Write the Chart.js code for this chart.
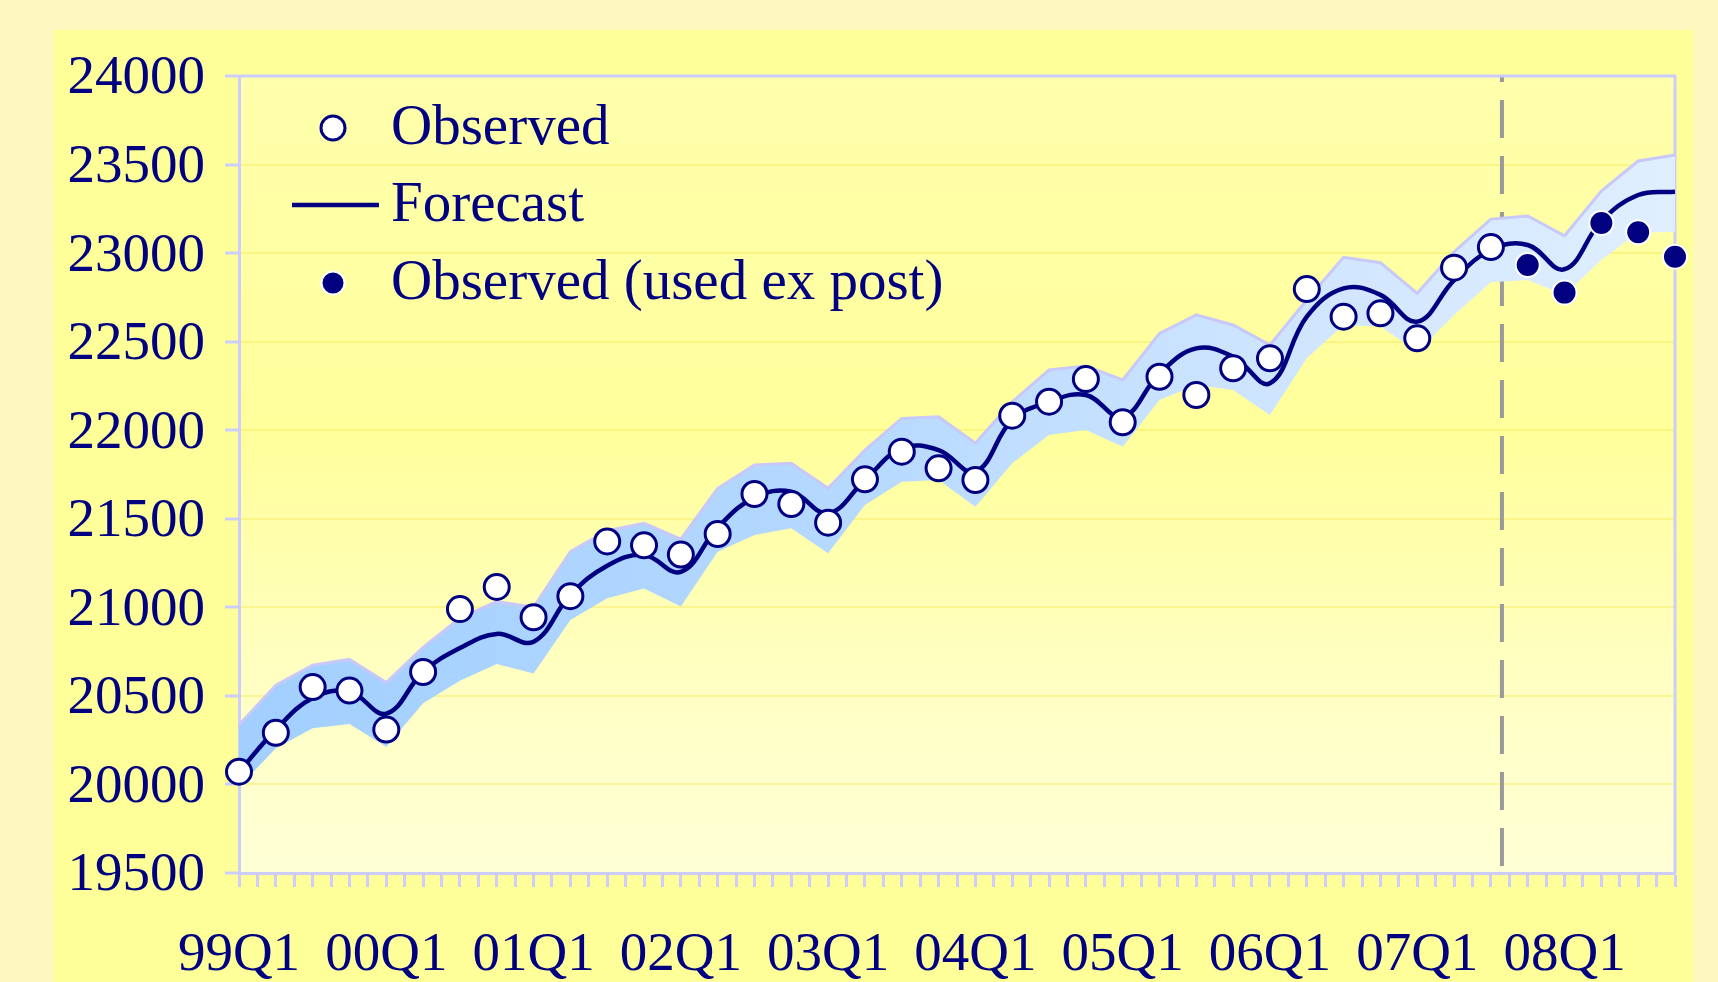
<!DOCTYPE html>
<html>
<head>
<meta charset="utf-8">
<script src="https://cdn.jsdelivr.net/npm/chart.js@4.4.0/dist/chart.umd.min.js"></script>
<style>
    html, body { margin: 0; padding: 0; width: 1718px; height: 982px; overflow: hidden; background: #FFF7C0; }
    #painel { position: absolute; left: 53px; top: 30px; width: 1640px; height: 952px; background: #FFFF99; }
    canvas { display: block; }
</style>
</head>
<body>
<div id="painel"><canvas id="grafico" width="1640" height="952"></canvas></div>
<script>
// --- Dados ---
const trimestres = [
    '99Q1', '99Q2', '99Q3', '99Q4', '00Q1', '00Q2', '00Q3', '00Q4',
    '01Q1', '01Q2', '01Q3', '01Q4', '02Q1', '02Q2', '02Q3', '02Q4',
    '03Q1', '03Q2', '03Q3', '03Q4', '04Q1', '04Q2', '04Q3', '04Q4',
    '05Q1', '05Q2', '05Q3', '05Q4', '06Q1', '06Q2', '06Q3', '06Q4',
    '07Q1', '07Q2', '07Q3', '07Q4', '08Q1', '08Q2', '08Q3', '08Q4'
];

const observado = [
    20072, 20292, 20550, 20530, 20310, 20635, 20990, 21115,
    20944, 21063, 21372, 21350, 21298, 21414, 21640, 21583,
    21478, 21723, 21879, 21785, 21719, 22082, 22161, 22289,
    22045, 22302, 22199, 22350, 22406, 22797, 22641, 22660,
    22519, 22918, 23034
];

const trimestresExPost = ['07Q4', '08Q1', '08Q2', '08Q3', '08Q4'];
const observadoExPost = [22933, 22777, 23170, 23118, 22980];

const previsao = [
    20070, 20310, 20488, 20524, 20400, 20635, 20770, 20850,
    20806, 21070, 21235, 21296, 21200, 21450, 21620, 21653,
    21531, 21719, 21898, 21888, 21766, 22058, 22161, 22199,
    22075, 22320, 22462, 22415, 22265, 22641, 22801, 22764,
    22613, 22848, 23018, 23046, 22909, 23180, 23328, 23347
];

const bandaSuperior = [
    20336, 20561, 20674, 20706, 20575, 20774, 20940, 21032,
    21000, 21314, 21433, 21474, 21385, 21672, 21804, 21813,
    21672, 21888, 22067, 22076, 21926, 22161, 22340, 22363,
    22284, 22547, 22651, 22594, 22481, 22735, 22976, 22946,
    22773, 23008, 23192, 23210, 23098, 23350, 23520, 23554
];

const bandaInferior = [
    19987, 20204, 20317, 20341, 20213, 20458, 20585, 20680,
    20627, 20928, 21051, 21107, 21004, 21314, 21408, 21446,
    21305, 21578, 21709, 21719, 21568, 21813, 21973, 22001,
    21907, 22171, 22255, 22227, 22086, 22406, 22594, 22585,
    22443, 22651, 22835, 22848, 22764, 22961, 23115, 23121
];

// início do período de previsão (linha tracejada), em unidades do eixo x
const inicioPrevisao = 34.3;
const rotulosLegenda = ['Observed', 'Forecast', 'Observed (used ex post)'];

// --- Estilo ---
const corTexto = '#000080';
const corEixo = '#CCCCFF';
const fonte = "'Liberation Serif', 'Times New Roman', serif";

const emPontos = (valores) => valores.map((v, i) => ({ x: i, y: v }));
const pontosExPost = observadoExPost.map((v, i) => ({ x: trimestres.indexOf(trimestresExPost[i]), y: v }));

const gradienteBanda = (context) => {
    const area = context.chart.chartArea;
    if (!area) return '#C0DCFF';
    const g = context.chart.ctx.createLinearGradient(area.left, 0, area.right, 0);
    g.addColorStop(0, '#A2CFFF');
    g.addColorStop(0.4, '#B4D8FF');
    g.addColorStop(0.7, '#CDE4FF');
    g.addColorStop(1, '#E0EFFF');
    return g;
};

// fundo em degradê da área do gráfico
const fundoArea = {
    id: 'fundoArea',
    beforeDraw(chart) {
        const { ctx, chartArea: a } = chart;
        const g = ctx.createLinearGradient(0, a.top, 0, a.bottom);
        g.addColorStop(0, '#FFFFAC');
        g.addColorStop(0.45, '#FFFF9C');
        g.addColorStop(0.75, '#FFFFC2');
        g.addColorStop(1, '#FFFFD6');
        ctx.save();
        ctx.fillStyle = g;
        ctx.fillRect(a.left, a.top, a.right - a.left, a.bottom - a.top);
        ctx.restore();
    }
};

// linha tracejada + bordas de cima e da direita
const linhaPrevisao = {
    id: 'linhaPrevisao',
    beforeDatasetsDraw(chart) {
        const { ctx, chartArea: a, scales } = chart;
        const x = scales.x.getPixelForValue(inicioPrevisao);
        ctx.save();
        ctx.strokeStyle = '#9A9A9A';
        ctx.lineWidth = 4;
        ctx.setLineDash([38, 18]);
        ctx.beginPath();
        ctx.moveTo(x, a.bottom - 7);
        ctx.lineTo(x, a.top);
        ctx.stroke();
        ctx.setLineDash([]);
        ctx.strokeStyle = corEixo;
        ctx.lineWidth = 3;
        ctx.beginPath();
        ctx.moveTo(a.left, a.top);
        ctx.lineTo(a.right, a.top);
        ctx.lineTo(a.right, a.bottom);
        ctx.stroke();
        ctx.restore();
    }
};

// legenda dentro da área do gráfico
const legenda = {
    id: 'legenda',
    afterDraw(chart) {
        const { ctx, chartArea: a } = chart;
        const linhas = [a.top + 52, a.top + 129, a.top + 207];
        const xMarca = a.left + 94;
        ctx.save();
        ctx.beginPath();
        ctx.arc(xMarca, linhas[0], 12, 0, Math.PI * 2);
        ctx.fillStyle = '#FFFFFF';
        ctx.fill();
        ctx.lineWidth = 3;
        ctx.strokeStyle = corTexto;
        ctx.stroke();

        ctx.beginPath();
        ctx.moveTo(a.left + 53, linhas[1]);
        ctx.lineTo(a.left + 140, linhas[1]);
        ctx.lineWidth = 4.5;
        ctx.stroke();

        ctx.beginPath();
        ctx.arc(xMarca, linhas[2], 11.5, 0, Math.PI * 2);
        ctx.fillStyle = corTexto;
        ctx.fill();
        ctx.lineWidth = 2;
        ctx.strokeStyle = '#FFFFFF';
        ctx.stroke();

        ctx.font = `57px ${fonte}`;
        ctx.fillStyle = corTexto;
        ctx.textAlign = 'left';
        ctx.textBaseline = 'middle';
        rotulosLegenda.forEach((t, i) => ctx.fillText(t, a.left + 152, linhas[i] + 1));
        ctx.restore();
    }
};

new Chart(document.getElementById('grafico'), {
    type: 'line',
    data: {
        datasets: [
            {
                label: rotulosLegenda[2],
                data: pontosExPost,
                showLine: false,
                pointRadius: 12,
                pointHoverRadius: 12,
                pointBackgroundColor: corTexto,
                pointBorderColor: '#FFFFFF',
                pointBorderWidth: 2,
                borderColor: corTexto,
                clip: false
            },
            {
                label: rotulosLegenda[0],
                data: emPontos(observado),
                showLine: false,
                pointRadius: 12.5,
                pointHoverRadius: 12.5,
                pointBackgroundColor: '#FFFFFF',
                pointBorderColor: corTexto,
                pointBorderWidth: 3,
                borderColor: corTexto,
                clip: false
            },
            {
                label: rotulosLegenda[1],
                data: emPontos(previsao),
                borderColor: corTexto,
                borderWidth: 4.5,
                pointRadius: 0,
                tension: 0.4,
                fill: false
            },
            {
                label: 'Banda superior',
                data: emPontos(bandaSuperior),
                borderColor: '#C8C8FA',
                borderWidth: 3,
                pointRadius: 0,
                tension: 0,
                fill: '+1',
                backgroundColor: gradienteBanda
            },
            {
                label: 'Banda inferior',
                data: emPontos(bandaInferior),
                borderColor: 'rgba(0,0,0,0)',
                borderWidth: 0,
                pointRadius: 0,
                tension: 0,
                fill: false
            }
        ]
    },
    options: {
        responsive: false,
        animation: false,
        layout: { padding: { top: 46, right: 18, left: 0, bottom: 0 } },
        plugins: {
            legend: { display: false },
            tooltip: { enabled: false }
        },
        scales: {
            x: {
                type: 'linear',
                min: 0,
                max: trimestres.length - 1,
                afterFit: (escala) => {
                    escala.height = 109;
                    escala.paddingLeft = 0;
                    escala.paddingRight = 0;
                },
                grid: { drawOnChartArea: false, tickLength: 14, tickColor: corEixo, tickWidth: 3 },
                border: { color: corEixo, width: 3 },
                ticks: {
                    stepSize: 0.5,
                    autoSkip: false,
                    maxRotation: 0,
                    minRotation: 0,
                    maxTicksLimit: 100,
                    padding: 36,
                    color: corTexto,
                    font: { family: fonte, size: 55 },
                    callback: (v) => (Number.isInteger(v) && trimestres[v].endsWith('Q1')) ? trimestres[v] : ''
                }
            },
            y: {
                min: 19500,
                max: 24000,
                afterFit: (escala) => {
                    escala.width = 186;
                    escala.paddingTop = 0;
                    escala.paddingBottom = 0;
                },
                grid: { color: 'rgba(245, 232, 90, 0.45)', lineWidth: 2, tickLength: 14, tickColor: corEixo, tickWidth: 3 },
                border: { color: corEixo, width: 3 },
                ticks: {
                    stepSize: 500,
                    padding: 20,
                    labelOffset: 3,
                    color: corTexto,
                    font: { family: fonte, size: 55 },
                    callback: (v) => String(v)
                }
            }
        }
    },
    plugins: [fundoArea, linhaPrevisao, legenda]
});
</script>
</body>
</html>
